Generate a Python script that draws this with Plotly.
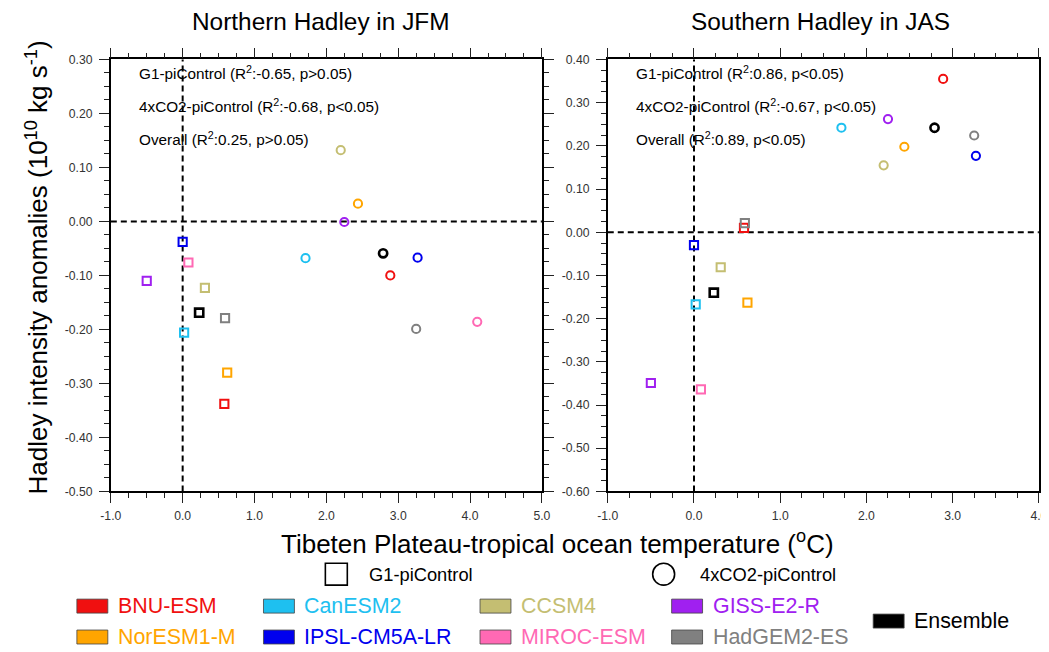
import plotly.graph_objects as go

W, H = 1049, 652
# empirical screen mapping measured on previous renders (screen = S*paper + O)
SX, OX = 0.983, 17.0
SY, OY = 0.981, 14.4
FS = 1 / 0.982   # font compensation

# ---------------- data ----------------
MODELS = ["BNU-ESM", "CanESM2", "CCSM4", "GISS-E2-R", "NorESM1-M",
          "IPSL-CM5A-LR", "MIROC-ESM", "HadGEM2-ES", "Ensemble"]
COLORS = ["#f01010", "#1ec0f0", "#c4be72", "#a020f0", "#ffa500",
          "#0000ee", "#ff69b4", "#808080", "#000000"]

# Tibetan Plateau - tropical ocean temperature (deg C), shared by both panels
TEMP_G1 = [0.58, 0.02, 0.31, -0.50, 0.62, 0.00, 0.08, 0.59, 0.23]
TEMP_CO2 = [2.89, 1.71, 2.20, 2.25, 2.44, 3.27, 4.10, 3.25, 2.79]

# Northern Hadley in JFM
NH_G1 = [-0.338, -0.206, -0.123, -0.110, -0.280, -0.038, -0.076, -0.179, -0.169]
NH_CO2 = [-0.100, -0.068, 0.132, -0.001, 0.033, -0.067, -0.186, -0.199, -0.059]

# Southern Hadley in JAS
SH_G1 = [0.010, -0.167, -0.081, -0.349, -0.163, -0.030, -0.364, 0.021, -0.140]
SH_CO2 = [0.355, 0.242, 0.155, 0.262, 0.198, 0.177, None, 0.224, 0.242]

PANEL_TITLES = ["Northern Hadley in JFM", "Southern Hadley in JAS"]
STATS_NH = ["G1-piControl (R<sup>2</sup>:-0.65, p>0.05)",
            "4xCO2-piControl (R<sup>2</sup>:-0.68, p<0.05)",
            "Overall (R<sup>2</sup>:0.25, p>0.05)"]
STATS_SH = ["G1-piControl (R<sup>2</sup>:0.86, p<0.05)",
            "4xCO2-piControl (R<sup>2</sup>:-0.67, p<0.05)",
            "Overall (R<sup>2</sup>:0.89, p<0.05)"]

X_TICKS_NH = [-1.0, 0.0, 1.0, 2.0, 3.0, 4.0, 5.0]
X_TICKS_SH = [-1.0, 0.0, 1.0, 2.0, 3.0, 4.0]
Y_TICKS_NH = [0.30, 0.20, 0.10, 0.00, -0.10, -0.20, -0.30, -0.40, -0.50]
Y_TICKS_SH = [0.40, 0.30, 0.20, 0.10, 0.00, -0.10, -0.20, -0.30, -0.40, -0.50, -0.60]

FONT = "Liberation Sans, Arial, Helvetica, sans-serif"


def px(x):
    """target screen x -> paper fraction"""
    return (x - OX) / SX / W


def py(y):
    """target screen y -> paper fraction"""
    return 1 - (y - OY) / SY / H


def f(s):
    return round(s * FS, 1)


fig = go.Figure()

widths = [2.6 if c == "#000000" else 2 for c in COLORS]
for xa, ya, yg1, yco2 in [("x", "y", NH_G1, NH_CO2), ("x2", "y2", SH_G1, SH_CO2)]:
    fig.add_trace(go.Scatter(
        x=TEMP_G1, y=yg1, xaxis=xa, yaxis=ya, mode="markers",
        marker=dict(symbol="square-open", size=8.2, color=COLORS,
                    line=dict(width=widths, color=COLORS)),
        text=MODELS, showlegend=False))
    fig.add_trace(go.Scatter(
        x=TEMP_CO2, y=yco2, xaxis=xa, yaxis=ya, mode="markers",
        marker=dict(symbol="circle-open", size=8.2, color=COLORS,
                    line=dict(width=widths, color=COLORS)),
        text=MODELS, showlegend=False))


def fmt(v, d):
    return f"{v:.{d}f}"


def axis_common():
    return dict(showgrid=False, zeroline=False, showline=True, linecolor="black",
                linewidth=1.6, mirror="ticks", ticks="outside", ticklen=10,
                tickwidth=1.4, tickcolor="#222",
                tickfont=dict(family=FONT, size=f(12), color="#333"))


minor_x = dict(dtick=0.25, ticklen=5, ticks="outside", tickcolor="#222", tickwidth=1)
minor_y = dict(dtick=0.025, ticklen=5, ticks="outside", tickcolor="#222", tickwidth=1)

ydom = [py(492), py(59)]
fig.update_layout(
    width=W, height=H, margin=dict(l=0, r=0, t=0, b=0),
    paper_bgcolor="white", plot_bgcolor="white", showlegend=False,
    font=dict(family=FONT, color="black"),
    xaxis=dict(domain=[px(109), px(541)], range=[-1, 5], anchor="y",
               tickvals=X_TICKS_NH, ticktext=[fmt(v, 1) for v in X_TICKS_NH],
               minor=minor_x, ticklabelstandoff=2, **axis_common()),
    yaxis=dict(domain=ydom, range=[-0.5, 0.3], anchor="x",
               tickvals=Y_TICKS_NH, ticktext=[fmt(v, 2) for v in Y_TICKS_NH],
               minor=minor_y, ticklabelstandoff=4, **axis_common()),
    xaxis2=dict(domain=[px(607), px(1039)], range=[-1, 4], anchor="y2",
                tickvals=X_TICKS_SH, ticktext=[fmt(v, 1) for v in X_TICKS_SH],
                minor=minor_x, ticklabelstandoff=2, **axis_common()),
    yaxis2=dict(domain=ydom, range=[-0.6, 0.4], anchor="x2",
                tickvals=Y_TICKS_SH, ticktext=[fmt(v, 2) for v in Y_TICKS_SH],
                minor=minor_y, ticklabelstandoff=4, **axis_common()),
)

shapes = []
annotations = []
dash = "6px,4px"
for xr, yr in [("x", "y"), ("x2", "y2")]:
    shapes.append(dict(type="line", xref=xr, yref=yr + " domain", x0=0, x1=0, y0=0, y1=1,
                       line=dict(color="black", width=2, dash=dash), layer="below"))
    shapes.append(dict(type="line", xref=xr + " domain", yref=yr, x0=0, x1=1, y0=0, y1=0,
                       line=dict(color="black", width=2, dash=dash), layer="below"))

# panel titles
for cx, t in zip([320, 820], PANEL_TITLES):
    annotations.append(dict(text=t, x=px(cx), y=py(21), xref="paper", yref="paper",
                            showarrow=False, xanchor="center", yanchor="middle",
                            font=dict(size=f(24), family=FONT, color="black")))

# statistic texts
for x0, texts in [(135, STATS_NH), (633, STATS_SH)]:
    for yy, t in zip([72, 105, 138], texts):
        annotations.append(dict(text=t, x=px(x0), y=py(yy), xref="paper", yref="paper",
                                showarrow=False, xanchor="left", yanchor="middle",
                                font=dict(size=f(15), family=FONT, color="black")))

# axis titles (y title kept just inside the paper edge)
annotations.append(dict(text="Hadley intensity anomalies (10<sup>10</sup> kg s<sup>-1</sup>)",
                        x=0.0, y=py(268), xref="paper", yref="paper", textangle=-90,
                        showarrow=False, xanchor="left", yanchor="middle",
                        font=dict(size=f(25.5), family=FONT, color="black")))
annotations.append(dict(text="Tibeten Plateau-tropical ocean temperature (<sup>o</sup>C)",
                        x=px(557), y=py(543), xref="paper", yref="paper",
                        showarrow=False, xanchor="center", yanchor="middle",
                        font=dict(size=f(25.5), family=FONT, color="black")))

# marker-type legend
shapes.append(dict(type="rect", xref="paper", yref="paper", x0=px(324), x1=px(346),
                   y0=py(586), y1=py(564), line=dict(color="black", width=1.6)))
annotations.append(dict(text="G1-piControl", x=px(366), y=py(575), xref="paper", yref="paper",
                        showarrow=False, xanchor="left", yanchor="middle",
                        font=dict(size=f(18), family=FONT, color="black")))
shapes.append(dict(type="circle", xref="paper", yref="paper", x0=px(652), x1=px(674),
                   y0=py(586), y1=py(564), line=dict(color="black", width=1.6)))
annotations.append(dict(text="4xCO2-piControl", x=px(697), y=py(575), xref="paper", yref="paper",
                        showarrow=False, xanchor="left", yanchor="middle",
                        font=dict(size=f(18), family=FONT, color="black")))

# colour legend
cols = [75, 262, 479, 671]
rows = [607, 638]
for i, (name, col) in enumerate(zip(MODELS, COLORS)):
    if name == "Ensemble":
        bx, by = 873, 622
    else:
        bx, by = cols[i % 4], rows[i // 4]
    shapes.append(dict(type="rect", xref="paper", yref="paper", x0=px(bx), x1=px(bx + 31),
                       y0=py(by + 7), y1=py(by - 7), fillcolor=col,
                       line=dict(color="#444", width=0.8)))
    annotations.append(dict(text=name, x=px(bx + 39), y=py(by), xref="paper", yref="paper",
                            showarrow=False, xanchor="left", yanchor="middle",
                            font=dict(size=f(21), family=FONT, color=col)))

fig.update_layout(shapes=shapes, annotations=annotations)
fig.write_html("out.html")
